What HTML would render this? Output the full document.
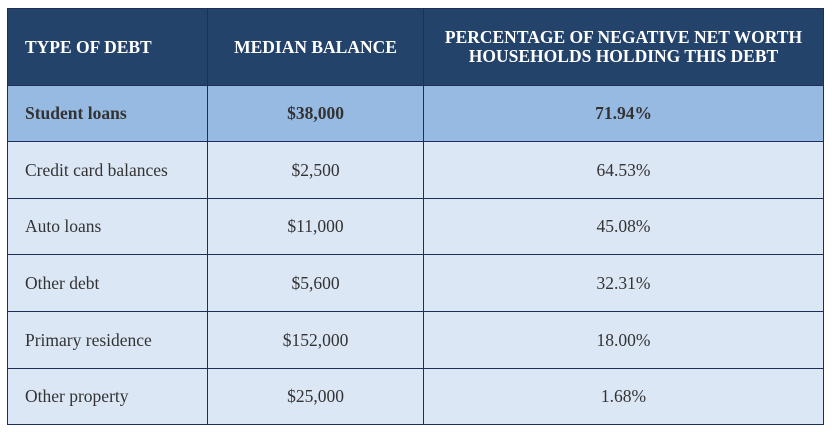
<!DOCTYPE html>
<html><head><style>
body{margin:0;width:832px;height:432px;background:#fff;position:relative;overflow:hidden}
.c{position:absolute;box-sizing:border-box;display:flex;align-items:center;border-right:1px solid #1f2f5a;border-bottom:1px solid #1f2f5a;font-family:"Liberation Serif","Times New Roman",serif;font-size:17.5px;color:#333}
.h{background:#24436b;color:#fff;font-weight:bold;font-size:17.5px;line-height:19px}
.s{background:#96bae2;font-weight:bold}
.r{background:#dce7f5}
.l{padding-left:17px}
.m{justify-content:center;text-align:center}
</style></head><body>
<div style="position:absolute;left:7px;top:8px;width:817px;height:417px;border-left:1px solid #1f2f5a;border-top:1px solid #1f2f5a;box-sizing:border-box"></div>
<div class="c h l" style="left:8px;top:9px;width:200px;height:77px">TYPE OF DEBT</div>
<div class="c h m" style="left:208px;top:9px;width:216px;height:77px">MEDIAN BALANCE</div>
<div class="c h m" style="left:424px;top:9px;width:400px;height:77px">PERCENTAGE OF NEGATIVE NET WORTH<br>HOUSEHOLDS HOLDING THIS DEBT</div>

<div class="c s l" style="left:8px;top:86px;width:200px;height:56px">Student loans</div>
<div class="c s m" style="left:208px;top:86px;width:216px;height:56px">$38,000</div>
<div class="c s m" style="left:424px;top:86px;width:400px;height:56px">71.94%</div>

<div class="c r l" style="left:8px;top:142px;width:200px;height:57px">Credit card balances</div>
<div class="c r m" style="left:208px;top:142px;width:216px;height:57px">$2,500</div>
<div class="c r m" style="left:424px;top:142px;width:400px;height:57px">64.53%</div>

<div class="c r l" style="left:8px;top:199px;width:200px;height:56px">Auto loans</div>
<div class="c r m" style="left:208px;top:199px;width:216px;height:56px">$11,000</div>
<div class="c r m" style="left:424px;top:199px;width:400px;height:56px">45.08%</div>

<div class="c r l" style="left:8px;top:255px;width:200px;height:57px">Other debt</div>
<div class="c r m" style="left:208px;top:255px;width:216px;height:57px">$5,600</div>
<div class="c r m" style="left:424px;top:255px;width:400px;height:57px">32.31%</div>

<div class="c r l" style="left:8px;top:312px;width:200px;height:57px">Primary residence</div>
<div class="c r m" style="left:208px;top:312px;width:216px;height:57px">$152,000</div>
<div class="c r m" style="left:424px;top:312px;width:400px;height:57px">18.00%</div>

<div class="c r l" style="left:8px;top:369px;width:200px;height:56px">Other property</div>
<div class="c r m" style="left:208px;top:369px;width:216px;height:56px">$25,000</div>
<div class="c r m" style="left:424px;top:369px;width:400px;height:56px">1.68%</div>
</body></html>
